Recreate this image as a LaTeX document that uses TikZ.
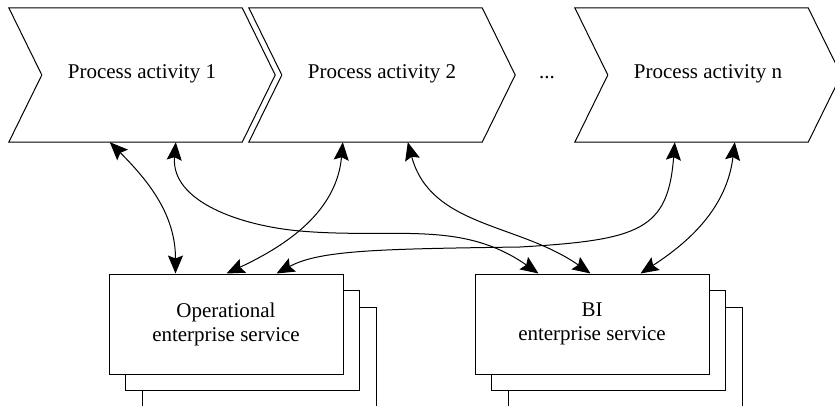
\documentclass[tikz,border=0pt]{standalone}
\usepackage{fontspec}
\setmainfont{Liberation Serif}
\usetikzlibrary{arrows.meta,shadows}

\tikzset{
  chevron/.style={minimum width=266pt, minimum height=134pt, inner sep=0pt,
    text height=1.2em, text depth=0.5em},
  svcbox/.style={draw, fill=white, line width=1pt, minimum width=234pt,
    minimum height=100pt, align=center,
    copy shadow={shadow xshift=33pt, shadow yshift=-33pt, draw=black, fill=white, line width=1pt},
    copy shadow={shadow xshift=16.5pt, shadow yshift=-16.5pt, draw=black, fill=white, line width=1pt}},
  tip/.tip={Stealth[length=18pt,width=15pt,inset=3pt]},
  link/.style={tip-tip, line width=1pt}
}

\begin{document}
\begin{tikzpicture}[x=1pt, y=-1pt, font=\fontsize{21}{24}\selectfont]
        \useasboundingbox (0,0) rectangle (835,406);
        % process chain
        \node[chevron] (c1) at (142,75) {Process activity 1};
        \node[chevron] (c2) at (382,75) {Process activity 2};
        \node[chevron] (cn) at (708,75) {Process activity n};
        \node[anchor=base] (dots) at (547,78.5) {...};
        \foreach \c in {c1,c2,cn}
          \draw[line width=1pt] (\c.north west) -- ([xshift=-33pt]\c.north east) -- (\c.east)
            -- ([xshift=-33pt]\c.south east) -- (\c.south west) -- ([xshift=33pt]\c.west) -- cycle;
        % services
        \node[svcbox] (ops) at (226,324) {Operational\\enterprise service};
        \node[svcbox] (bi) at (592,324) {BI\\enterprise service};
        % links
        \draw[link] ([xshift=101pt]c1.south west) to[out=-45,in=90] ([xshift=67pt]ops.north west);
        \draw[link] ([xshift=167pt]c1.south west) to[out=-95,in=175] (300,231)
          to[out=-5,in=145] ([xshift=64pt]bi.north west);
        \draw[link] ([xshift=94pt]c2.south west) to[out=-95,in=25] ([xshift=118pt]ops.north west);
        \draw[link] ([xshift=159pt]c2.south west) to[out=-75,in=145] ([xshift=116pt]bi.north west);
        \draw[link] ([xshift=100pt]cn.south west) .. controls (668,230) and (640,240) .. (520,247)
          .. controls (380,249) and (320,250) .. ([xshift=168pt]ops.north west);
        \draw[link] ([xshift=160pt]cn.south west) to[out=-97,in=33] ([xshift=166pt]bi.north west);
    \end{tikzpicture}
\end{document}
